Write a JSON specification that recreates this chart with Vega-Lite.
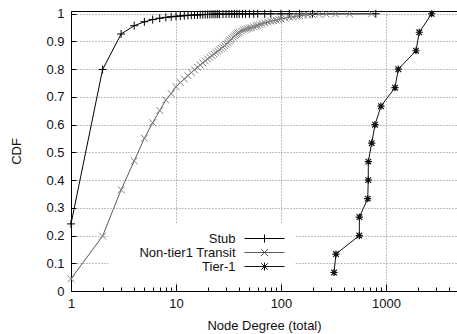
{
  "$schema": "https://vega.github.io/schema/vega-lite/v6.json",
  "width": 386,
  "height": 280,
  "autosize": {"type": "none"},
  "padding": {"left": 71, "top": 11, "right": 0, "bottom": 43},
  "config": {
    "font": "Liberation Sans",
    "view": {"stroke": "#000", "strokeWidth": 1},
    "axis": {
      "domainColor": "#000",
      "domainWidth": 1,
      "tickColor": "#000",
      "tickWidth": 1,
      "labelFont": "Liberation Sans",
      "labelFontSize": 13,
      "labelColor": "#111",
      "titleFont": "Liberation Sans",
      "titleFontSize": 13,
      "titleFontWeight": "normal",
      "titleColor": "#111",
      "gridColor": "#808080",
      "gridDash": [1, 2],
      "gridWidth": 1,
      "labelFlush": false,
      "labelOverlap": false
    }
  },
  "data": {
    "values": [
      {"series": "Stub", "degree": 1, "cdf": 0.242},
      {"series": "Stub", "degree": 2, "cdf": 0.799},
      {"series": "Stub", "degree": 3, "cdf": 0.927},
      {"series": "Stub", "degree": 4, "cdf": 0.957},
      {"series": "Stub", "degree": 5, "cdf": 0.971},
      {"series": "Stub", "degree": 6, "cdf": 0.979},
      {"series": "Stub", "degree": 7, "cdf": 0.984},
      {"series": "Stub", "degree": 8, "cdf": 0.987},
      {"series": "Stub", "degree": 9, "cdf": 0.989},
      {"series": "Stub", "degree": 10, "cdf": 0.991},
      {"series": "Stub", "degree": 11, "cdf": 0.992},
      {"series": "Stub", "degree": 12, "cdf": 0.993},
      {"series": "Stub", "degree": 13, "cdf": 0.994},
      {"series": "Stub", "degree": 14, "cdf": 0.995},
      {"series": "Stub", "degree": 15, "cdf": 0.9955},
      {"series": "Stub", "degree": 16, "cdf": 0.996},
      {"series": "Stub", "degree": 17, "cdf": 0.9965},
      {"series": "Stub", "degree": 18, "cdf": 0.997},
      {"series": "Stub", "degree": 19, "cdf": 0.9973},
      {"series": "Stub", "degree": 20, "cdf": 0.9976},
      {"series": "Stub", "degree": 21, "cdf": 0.9978},
      {"series": "Stub", "degree": 22, "cdf": 0.998},
      {"series": "Stub", "degree": 23, "cdf": 0.9982},
      {"series": "Stub", "degree": 24, "cdf": 0.9984},
      {"series": "Stub", "degree": 25, "cdf": 0.9985},
      {"series": "Stub", "degree": 26, "cdf": 0.9986},
      {"series": "Stub", "degree": 28, "cdf": 0.9988},
      {"series": "Stub", "degree": 30, "cdf": 0.999},
      {"series": "Stub", "degree": 32, "cdf": 0.9991},
      {"series": "Stub", "degree": 34, "cdf": 0.9992},
      {"series": "Stub", "degree": 36, "cdf": 0.9993},
      {"series": "Stub", "degree": 38, "cdf": 0.9994},
      {"series": "Stub", "degree": 40, "cdf": 0.9995},
      {"series": "Stub", "degree": 43, "cdf": 0.9996},
      {"series": "Stub", "degree": 46, "cdf": 0.99965},
      {"series": "Stub", "degree": 50, "cdf": 0.9997},
      {"series": "Stub", "degree": 55, "cdf": 0.99975},
      {"series": "Stub", "degree": 60, "cdf": 0.9998},
      {"series": "Stub", "degree": 70, "cdf": 0.99985},
      {"series": "Stub", "degree": 80, "cdf": 0.9999},
      {"series": "Stub", "degree": 100, "cdf": 0.99992},
      {"series": "Stub", "degree": 120, "cdf": 0.99994},
      {"series": "Stub", "degree": 150, "cdf": 0.99996},
      {"series": "Stub", "degree": 200, "cdf": 0.99998},
      {"series": "Stub", "degree": 800, "cdf": 1.0},
      {"series": "Non-tier1 Transit", "degree": 1, "cdf": 0.044},
      {"series": "Non-tier1 Transit", "degree": 2, "cdf": 0.198},
      {"series": "Non-tier1 Transit", "degree": 3, "cdf": 0.365},
      {"series": "Non-tier1 Transit", "degree": 4, "cdf": 0.469},
      {"series": "Non-tier1 Transit", "degree": 5, "cdf": 0.551},
      {"series": "Non-tier1 Transit", "degree": 6, "cdf": 0.607},
      {"series": "Non-tier1 Transit", "degree": 7, "cdf": 0.651},
      {"series": "Non-tier1 Transit", "degree": 8, "cdf": 0.689},
      {"series": "Non-tier1 Transit", "degree": 9, "cdf": 0.712},
      {"series": "Non-tier1 Transit", "degree": 10, "cdf": 0.737},
      {"series": "Non-tier1 Transit", "degree": 11, "cdf": 0.752},
      {"series": "Non-tier1 Transit", "degree": 12, "cdf": 0.765},
      {"series": "Non-tier1 Transit", "degree": 13, "cdf": 0.777},
      {"series": "Non-tier1 Transit", "degree": 14, "cdf": 0.788},
      {"series": "Non-tier1 Transit", "degree": 15, "cdf": 0.798},
      {"series": "Non-tier1 Transit", "degree": 16, "cdf": 0.807},
      {"series": "Non-tier1 Transit", "degree": 17, "cdf": 0.815},
      {"series": "Non-tier1 Transit", "degree": 18, "cdf": 0.823},
      {"series": "Non-tier1 Transit", "degree": 19, "cdf": 0.83},
      {"series": "Non-tier1 Transit", "degree": 20, "cdf": 0.837},
      {"series": "Non-tier1 Transit", "degree": 21, "cdf": 0.843},
      {"series": "Non-tier1 Transit", "degree": 22, "cdf": 0.849},
      {"series": "Non-tier1 Transit", "degree": 23, "cdf": 0.855},
      {"series": "Non-tier1 Transit", "degree": 24, "cdf": 0.86},
      {"series": "Non-tier1 Transit", "degree": 25, "cdf": 0.865},
      {"series": "Non-tier1 Transit", "degree": 26, "cdf": 0.87},
      {"series": "Non-tier1 Transit", "degree": 27, "cdf": 0.875},
      {"series": "Non-tier1 Transit", "degree": 28, "cdf": 0.88},
      {"series": "Non-tier1 Transit", "degree": 29, "cdf": 0.885},
      {"series": "Non-tier1 Transit", "degree": 30, "cdf": 0.89},
      {"series": "Non-tier1 Transit", "degree": 31, "cdf": 0.895},
      {"series": "Non-tier1 Transit", "degree": 32, "cdf": 0.9},
      {"series": "Non-tier1 Transit", "degree": 33, "cdf": 0.905},
      {"series": "Non-tier1 Transit", "degree": 34, "cdf": 0.91},
      {"series": "Non-tier1 Transit", "degree": 35, "cdf": 0.915},
      {"series": "Non-tier1 Transit", "degree": 36, "cdf": 0.92},
      {"series": "Non-tier1 Transit", "degree": 37, "cdf": 0.924},
      {"series": "Non-tier1 Transit", "degree": 38, "cdf": 0.928},
      {"series": "Non-tier1 Transit", "degree": 39, "cdf": 0.931},
      {"series": "Non-tier1 Transit", "degree": 40, "cdf": 0.934},
      {"series": "Non-tier1 Transit", "degree": 42, "cdf": 0.938},
      {"series": "Non-tier1 Transit", "degree": 44, "cdf": 0.941},
      {"series": "Non-tier1 Transit", "degree": 46, "cdf": 0.944},
      {"series": "Non-tier1 Transit", "degree": 48, "cdf": 0.946},
      {"series": "Non-tier1 Transit", "degree": 50, "cdf": 0.948},
      {"series": "Non-tier1 Transit", "degree": 52, "cdf": 0.95},
      {"series": "Non-tier1 Transit", "degree": 55, "cdf": 0.953},
      {"series": "Non-tier1 Transit", "degree": 58, "cdf": 0.956},
      {"series": "Non-tier1 Transit", "degree": 60, "cdf": 0.958},
      {"series": "Non-tier1 Transit", "degree": 63, "cdf": 0.961},
      {"series": "Non-tier1 Transit", "degree": 66, "cdf": 0.964},
      {"series": "Non-tier1 Transit", "degree": 70, "cdf": 0.967},
      {"series": "Non-tier1 Transit", "degree": 75, "cdf": 0.97},
      {"series": "Non-tier1 Transit", "degree": 80, "cdf": 0.973},
      {"series": "Non-tier1 Transit", "degree": 85, "cdf": 0.975},
      {"series": "Non-tier1 Transit", "degree": 90, "cdf": 0.977},
      {"series": "Non-tier1 Transit", "degree": 95, "cdf": 0.979},
      {"series": "Non-tier1 Transit", "degree": 100, "cdf": 0.981},
      {"series": "Non-tier1 Transit", "degree": 110, "cdf": 0.984},
      {"series": "Non-tier1 Transit", "degree": 120, "cdf": 0.987},
      {"series": "Non-tier1 Transit", "degree": 130, "cdf": 0.989},
      {"series": "Non-tier1 Transit", "degree": 140, "cdf": 0.991},
      {"series": "Non-tier1 Transit", "degree": 150, "cdf": 0.993},
      {"series": "Non-tier1 Transit", "degree": 165, "cdf": 0.995},
      {"series": "Non-tier1 Transit", "degree": 180, "cdf": 0.996},
      {"series": "Non-tier1 Transit", "degree": 200, "cdf": 0.997},
      {"series": "Non-tier1 Transit", "degree": 230, "cdf": 0.998},
      {"series": "Non-tier1 Transit", "degree": 270, "cdf": 0.9985},
      {"series": "Non-tier1 Transit", "degree": 330, "cdf": 0.999},
      {"series": "Non-tier1 Transit", "degree": 450, "cdf": 0.9995},
      {"series": "Non-tier1 Transit", "degree": 731, "cdf": 1.0},
      {"series": "Tier-1", "degree": 320, "cdf": 0.0667},
      {"series": "Tier-1", "degree": 334, "cdf": 0.1333},
      {"series": "Tier-1", "degree": 557, "cdf": 0.2},
      {"series": "Tier-1", "degree": 558, "cdf": 0.2667},
      {"series": "Tier-1", "degree": 670, "cdf": 0.3333},
      {"series": "Tier-1", "degree": 678, "cdf": 0.4},
      {"series": "Tier-1", "degree": 679, "cdf": 0.4667},
      {"series": "Tier-1", "degree": 731, "cdf": 0.5333},
      {"series": "Tier-1", "degree": 786, "cdf": 0.6},
      {"series": "Tier-1", "degree": 896, "cdf": 0.6667},
      {"series": "Tier-1", "degree": 1218, "cdf": 0.7333},
      {"series": "Tier-1", "degree": 1310, "cdf": 0.8},
      {"series": "Tier-1", "degree": 1931, "cdf": 0.8667},
      {"series": "Tier-1", "degree": 2076, "cdf": 0.9333},
      {"series": "Tier-1", "degree": 2723, "cdf": 1.0}
    ]
  },
  "encoding": {
    "x": {
      "field": "degree",
      "type": "quantitative",
      "scale": {"type": "log", "domain": [1, 4747], "nice": false},
      "axis": {
        "title": "Node Degree (total)",
        "titlePadding": 6,
        "values": [1, 2, 3, 4, 5, 6, 7, 8, 9, 10, 20, 30, 40, 50, 60, 70, 80, 90, 100, 200, 300, 400, 500, 600, 700, 800, 900, 1000, 2000, 3000, 4000],
        "labelExpr": "indexof([1, 10, 100, 1000], datum.value) >= 0 ? format(datum.value, 'd') : ''",
        "grid": true,
        "gridOpacity": {"condition": {"test": "indexof([10, 100, 1000], datum.value) >= 0", "value": 1}, "value": 0},
        "tickSize": {"condition": {"test": "indexof([1, 10, 100, 1000], datum.value) >= 0", "value": -7}, "value": -4},
        "labelPadding": 13
      }
    },
    "y": {
      "field": "cdf",
      "type": "quantitative",
      "scale": {"domain": [0, 1.01], "nice": false},
      "axis": {
        "title": "CDF",
        "titlePadding": 22,
        "format": "~g",
        "values": [0, 0.1, 0.2, 0.3, 0.4, 0.5, 0.6, 0.7, 0.8, 0.9, 1],
        "grid": true,
        "tickSize": -5,
        "labelPadding": 12
      }
    }
  },
  "layer": [
    {
      "mark": {"type": "line", "strokeWidth": 1},
      "encoding": {
        "order": {"field": "cdf", "type": "quantitative"},
        "stroke": {
          "field": "series",
          "type": "nominal",
          "scale": {"domain": ["Stub", "Non-tier1 Transit", "Tier-1"], "range": ["#000000", "#5a5a5a", "#111111"]},
          "legend": {
            "orient": "none",
            "legendX": 37.5,
            "legendY": 213,
            "title": null,
            "labelAlign": "right",
            "labelOffset": -35.5,
            "symbolOffset": 141.5,
            "symbolSize": 100,
            "labelFont": "Liberation Sans",
            "labelFontSize": 13,
            "labelColor": "#111",
            "labelLimit": 300,
            "fillColor": "#ffffff",
            "padding": 8,
            "rowPadding": -2,
            "symbolStrokeWidth": 1,
            "encode": {
              "symbols": {
                "update": {
                  "shape": {"signal": "datum.value === 'Stub' ? 'M-4,0L4,0M0,-0.8L0,0.8' : datum.value === 'Tier-1' ? 'M-4,0L4,0M-0.65,-0.65L0.65,0.65M-0.65,0.65L0.65,-0.65M0,-0.8L0,0.8' : 'M-4,0L4,0M-0.7,-0.7L0.7,0.7M-0.7,0.7L0.7,-0.7'"},
                  "fill": {"value": "transparent"},
                  "strokeWidth": {"value": 1}
                }
              }
            }
          }
        }
      }
    },
    {
      "transform": [{"filter": "datum.series === 'Stub'"}],
      "mark": {"type": "point", "filled": false, "strokeWidth": 1, "size": 64, "opacity": 1, "color": "#000000", "shape": "M-1,0L1,0M0,-1L0,1"}
    },
    {
      "transform": [{"filter": "datum.series === 'Non-tier1 Transit'"}],
      "mark": {"type": "point", "filled": false, "strokeWidth": 1, "size": 64, "opacity": 1, "color": "#808080", "shape": "M-0.85,-0.85L0.85,0.85M-0.85,0.85L0.85,-0.85"}
    },
    {
      "transform": [{"filter": "datum.series === 'Tier-1'"}],
      "mark": {"type": "point", "filled": false, "strokeWidth": 1.2, "size": 64, "opacity": 1, "color": "#111111", "shape": "M-0.9,0L0.9,0M0,-0.9L0,0.9M-0.7,-0.7L0.7,0.7M-0.7,0.7L0.7,-0.7"}
    }
  ]
}
